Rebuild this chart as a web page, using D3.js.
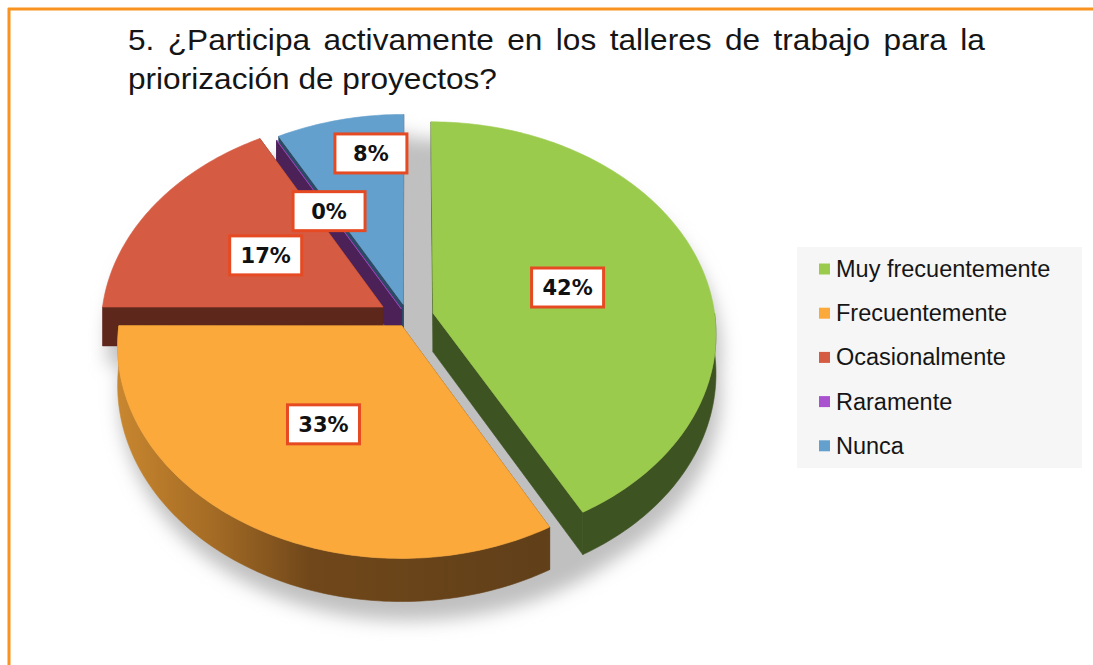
<!DOCTYPE html>
<html>
<head>
<meta charset="utf-8">
<script src="https://cdn.jsdelivr.net/npm/d3@7"></script>
<style>
  body { margin: 0; background: #fff; }
  svg { display: block; }
</style>
</head>
<body>
<div id="chart-area"></div>
<script>
// data
var categories = ["Muy frecuentemente", "Frecuentemente", "Ocasionalmente", "Raramente", "Nunca"];
var percents = [42, 33, 17, 0, 8];
var labels = ["42%", "33%", "17%", "0%", "8%"];
var titleLines = ["5. ¿Participa activamente en los talleres de trabajo para la", "priorización de proyectos?"];

// look
var colors = ["#9BCB4C", "#FBA93B", "#D55B42", "#A951CF", "#63A0CD"];
var wallColors = ["#3D5321", "url(#orangeWall)", "#5E271C", "#4B2158", "#2C4A66"];
var explode = [26, 12, 29, 14, 19];          // slice pull-out
var labelRadius = [0.5, 0.52, 0.5, 0.56, 0.79];
var labelTurn = [0, 0, 0, 0, 5.3];           // degrees

var width = 1093,
	height = 665;

var cx = 408, cy = 318, R = 282;
var tilt = 0.744, persp = 0.092, depth = 39;

var svg = d3.select("#chart-area")
		.append("svg")
		.attr("width", width)
		.attr("height", height);

var defs = svg.append("defs");
var grad = defs.append("linearGradient")
		.attr("id", "orangeWall")
		.attr("gradientUnits", "userSpaceOnUse")
		.attr("x1", 115).attr("x2", 550).attr("y1", 0).attr("y2", 0);
[[0, "#C9872F"], [0.22, "#A56C25"], [0.45, "#70471A"], [1, "#603F19"]].forEach(function(s){
	grad.append("stop").attr("offset", s[0]).attr("stop-color", s[1]);
});
defs.append("filter").attr("id", "blur")
		.attr("x", "-20%").attr("y", "-20%").attr("width", "140%").attr("height", "140%")
		.append("feGaussianBlur").attr("stdDeviation", 9);

// frame
svg.append("line").attr("x1", 8).attr("x2", width).attr("y1", 9).attr("y2", 9)
		.attr("stroke", "#F7931E").attr("stroke-width", 3);
svg.append("line").attr("x1", 9).attr("x2", 9).attr("y1", 8).attr("y2", height)
		.attr("stroke", "#F7931E").attr("stroke-width", 3);

// title
var title = svg.append("g").attr("font-family", "'Liberation Sans', Arial, sans-serif")
		.attr("font-size", 29).attr("fill", "#151515");
var t1 = title.append("text").attr("x", 0).attr("y", 50).text(titleLines[0]);
var t2 = title.append("text").attr("x", 0).attr("y", 89).text(titleLines[1]);
var sx = 369 / t2.node().getComputedTextLength();
var spaces = titleLines[0].split(" ").length - 1;
var ws = (857 / sx - t1.node().getComputedTextLength()) / spaces;
t1.attr("word-spacing", ws);
title.attr("transform", "translate(128,0) scale(" + sx + ",1)");

// 3d projection of the pie plane
function project(x, z, h){
	var f = 1 / (1 + persp * z / R);
	return [cx + x * f, cy - z * tilt * f - h * f];
}

var slices = d3.pie().sort(null).value(function(d){ return d; })(percents);
slices.forEach(function(s, i){
	s.i = i;
	s.mid = (s.startAngle + s.endAngle) / 2;
	s.ox = explode[i] * Math.sin(s.mid);
	s.oz = explode[i] * Math.cos(s.mid);
});

function pt(s, a, r, h){
	return project(s.ox + r * Math.sin(a), s.oz + r * Math.cos(a), h);
}
function arcPts(s, a0, a1, h, r){
	r = r || R;
	var n = Math.max(2, Math.ceil(Math.abs(a1 - a0) / (Math.PI / 180)));
	return d3.range(n + 1).map(function(k){ return pt(s, a0 + (a1 - a0) * k / n, r, h); });
}
function topFace(s){
	return [pt(s, 0, 0, 0)].concat(arcPts(s, s.startAngle, s.endAngle, 0));
}
function radialWall(s, a){
	return [pt(s, a, 0, 0), pt(s, a, R, 0), pt(s, a, R, -depth), pt(s, a, 0, -depth)];
}
function outerWall(s){
	var t0 = Math.max(s.startAngle, Math.PI / 2),
		t1 = Math.min(s.endAngle, 3 * Math.PI / 2);
	if (t1 <= t0) return null;
	return arcPts(s, t0, t1, 0).concat(arcPts(s, t1, t0, -depth));
}

var line = d3.line().curve(d3.curveLinearClosed);

// back to front
var order = slices.slice().sort(function(a, b){ return Math.cos(b.mid) - Math.cos(a.mid); });

// shadow: whole disc plus every pulled-out slice
var shadow = svg.append("g").attr("filter", "url(#blur)")
		.attr("transform", "translate(5,19)").attr("fill", "#C0C0C0");
var disc = { ox: 0, oz: 0 };
shadow.append("path").attr("d", line(
		arcPts(disc, -Math.PI / 2, Math.PI / 2, 0, R + 10)
		.concat(arcPts(disc, Math.PI / 2, 3 * Math.PI / 2, -depth, R + 10))));
order.forEach(function(s){
	var shapes = [topFace(s), radialWall(s, s.startAngle), radialWall(s, s.endAngle)];
	var o = outerWall(s);
	if (o) shapes.push(o);
	shapes.forEach(function(p){ shadow.append("path").attr("d", line(p)); });
});

var pie = svg.append("g");
order.forEach(function(s){
	var g = pie.append("g").attr("class", "slice");
	var wc = wallColors[s.i];
	var startFront = Math.sin(s.startAngle) < 0,
		endFront = Math.sin(s.endAngle) > 0;
	var walls = [[s.startAngle, startFront], [s.endAngle, endFront]]
			.sort(function(a, b){ return a[1] - b[1]; });
	walls.forEach(function(w){
		g.append("path").attr("d", line(radialWall(s, w[0])))
				.attr("fill", wc).attr("stroke", wc).attr("stroke-width", 0.6);
	});
	var o = outerWall(s);
	if (o) g.append("path").attr("d", line(o))
			.attr("fill", wc).attr("stroke", wc).attr("stroke-width", 0.6);
	g.append("path").attr("d", line(topFace(s)))
			.attr("fill", colors[s.i]).attr("stroke", colors[s.i]).attr("stroke-width", 0.6);
});

// data labels
var lab = svg.append("g").selectAll("g")
		.data(slices)
		.enter()
		.append("g")
		.attr("transform", function(s){
			var a = s.mid + labelTurn[s.i] * Math.PI / 180;
			var p = pt(s, a, labelRadius[s.i] * R, 0);
			return "translate(" + p[0] + "," + p[1] + ")";
		});
lab.append("rect")
		.attr("x", -36).attr("y", -19.5).attr("width", 72).attr("height", 39)
		.attr("fill", "#fff").attr("stroke", "#E64A23").attr("stroke-width", 3);
lab.append("text")
		.attr("text-anchor", "middle").attr("dy", "0.36em")
		.attr("font-family", "'DejaVu Sans', sans-serif").attr("font-weight", "bold")
		.attr("font-size", 21).attr("fill", "#111")
		.text(function(s){ return labels[s.i]; });

// legend
var legend = svg.append("g");
legend.append("rect").attr("x", 797).attr("y", 247).attr("width", 285).attr("height", 221)
		.attr("fill", "#F6F6F6");
var item = legend.selectAll("g.item")
		.data(categories)
		.enter()
		.append("g")
		.attr("class", "item")
		.attr("transform", function(d, i){ return "translate(819," + (269 + i * 44.2) + ")"; });
item.append("rect").attr("x", 0).attr("y", -5.5).attr("width", 11).attr("height", 11)
		.attr("fill", function(d, i){ return colors[i]; });
item.append("text").attr("x", 17).attr("y", 8)
		.attr("font-family", "'Liberation Sans', Arial, sans-serif")
		.attr("font-size", 23.5).attr("fill", "#151515")
		.text(function(d){ return d; });
</script>
</body>
</html>
